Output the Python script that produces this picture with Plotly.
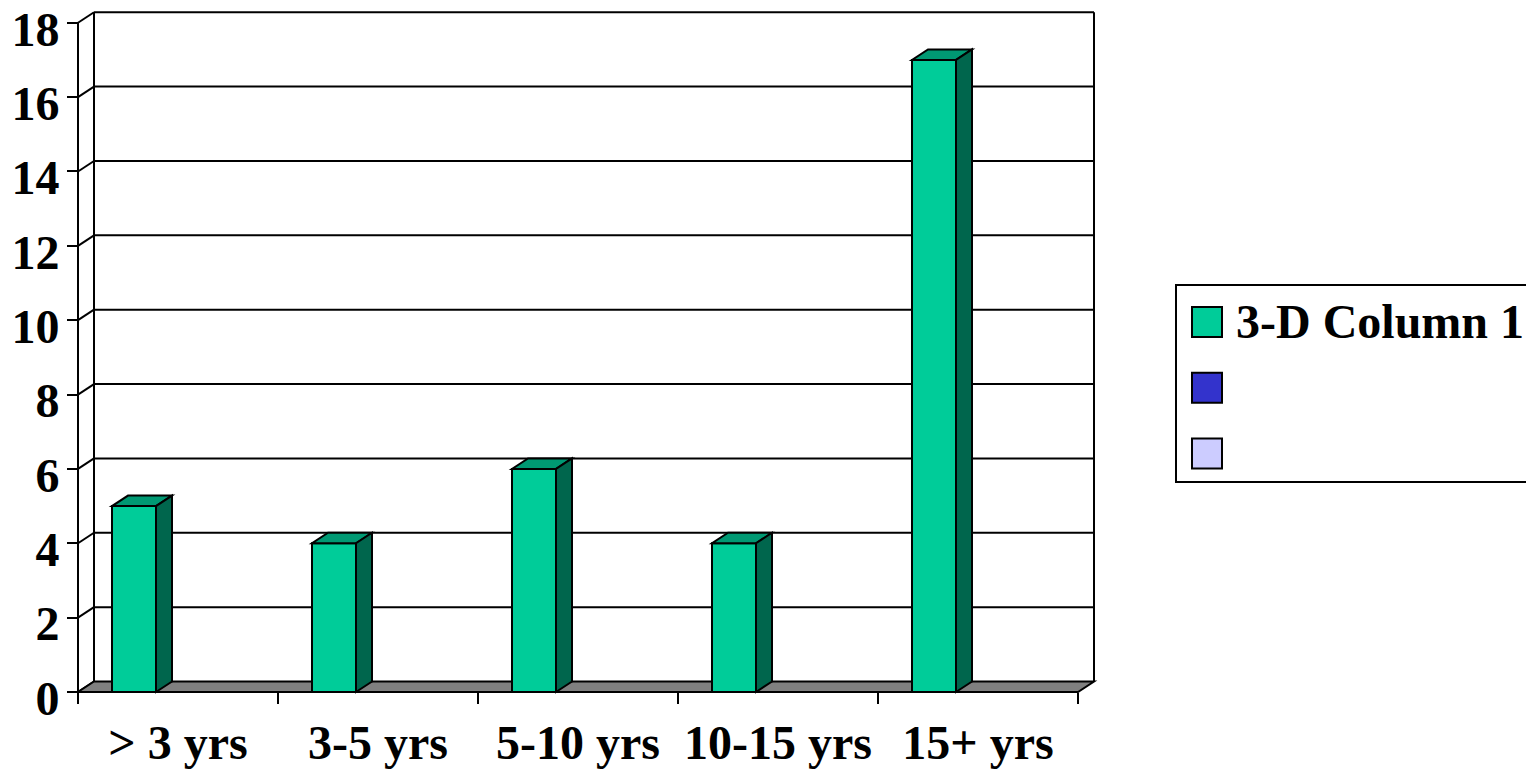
import plotly.graph_objects as go

# ---------------- data ----------------
categories = ["> 3 yrs", "3-5 yrs", "5-10 yrs", "10-15 yrs", "15+ yrs"]
series_names = ["3-D Column 1", "", ""]
series_1 = [5, 4, 6, 4, 17]
series_2 = [None, None, None, None, None]
series_3 = [None, None, None, None, None]
y_tick_values = [0, 2, 4, 6, 8, 10, 12, 14, 16, 18]

# ---------------- style ----------------
front_colors = ["#00CC99", "#3333CC", "#CCCCFF"]
top_colors = ["#009973", "#262699", "#9999BF"]
side_colors = ["#00664D", "#1A1A66", "#666680"]
FONT = "Liberation Serif, Times New Roman, serif"
FS = 48
BARGAP = 0.34
DX = 0.08      # depth offset in x units
DY = 0.2824    # depth offset in y units

# page geometry (body margin removed by post_script)
W, H = 1526, 773
# page-pixel placement of the plot area
PLOT_L, PLOT_R = 58, 1108      # x = -0.1 .. 5.15  (200 px per category)
PLOT_T, PLOT_B = 8, 703
X0_PX, XSCALE = 78, 200.0      # x=0 at px 78
Y0_PX, YSCALE = 692, 37.18     # y=0 at px 692
XR = [(PLOT_L - X0_PX) / XSCALE, (PLOT_R - X0_PX) / XSCALE]
YR = [(Y0_PX - PLOT_B) / YSCALE, (Y0_PX - PLOT_T) / YSCALE]
ML = PLOT_L
MT = PLOT_T
MR = W - PLOT_R
MB = H - PLOT_B

all_series = [series_1, series_2, series_3]
n_cat = len(categories)
n_ser = len(all_series)
xc = [i + 0.5 for i in range(n_cat)]
ymax = max(y_tick_values)

fig = go.Figure()
for s, vals in enumerate(all_series):
    fig.add_trace(go.Bar(
        x=xc, y=vals, name=series_names[s] or " ",
        marker=dict(color=front_colors[s], line=dict(color="black", width=2)),
        showlegend=False,
    ))

shapes = []
blk = dict(color="black", width=2)

# back wall gridlines (incl. top) and left wall diagonals
for k in y_tick_values:
    if k > 0:
        shapes.append(dict(type="line", xref="x", yref="y", x0=DX, x1=n_cat + DX,
                           y0=k + DY, y1=k + DY, line=blk, layer="below"))
    shapes.append(dict(type="line", xref="x", yref="y", x0=0, x1=DX,
                       y0=k, y1=k + DY, line=blk, layer="below"))
# back wall verticals
for xv in [DX, n_cat + DX]:
    shapes.append(dict(type="line", xref="x", yref="y", x0=xv, x1=xv,
                       y0=DY, y1=ymax + DY, line=blk, layer="below"))
# front axis line
shapes.append(dict(type="line", xref="x", yref="y", x0=0, x1=0,
                   y0=0, y1=ymax, line=blk, layer="below"))
# floor
shapes.append(dict(type="path", xref="x", yref="y",
                   path=f"M0,0 L{n_cat},0 L{n_cat + DX},{DY} L{DX},{DY} Z",
                   fillcolor="#808080", line=blk, layer="below"))

# 3-D faces of the bars
group_w = 1 - BARGAP
bar_w = group_w / n_ser
for s, vals in enumerate(all_series):
    for i, v in enumerate(vals):
        if v is None:
            continue
        x0 = xc[i] - group_w / 2 + s * bar_w
        x1 = x0 + bar_w
        shapes.append(dict(type="path", xref="x", yref="y",
                           path=f"M{x0},{v} L{x1},{v} L{x1 + DX},{v + DY} L{x0 + DX},{v + DY} Z",
                           fillcolor=top_colors[s], line=blk, layer="above"))
        shapes.append(dict(type="path", xref="x", yref="y",
                           path=f"M{x1},0 L{x1},{v} L{x1 + DX},{v + DY} L{x1 + DX},{DY} Z",
                           fillcolor=side_colors[s], line=blk, layer="above"))

# ---------------- legend (drawn manually) ----------------
pw = PLOT_R - PLOT_L
ph = PLOT_B - PLOT_T


def px_x(p):
    return (p - PLOT_L) / pw


def px_y(p):
    return (PLOT_B - p) / ph


shapes.append(dict(type="rect", xref="paper", yref="paper",
                   x0=px_x(1176), x1=px_x(1545), y0=px_y(482), y1=px_y(285),
                   line=blk, fillcolor="white", layer="above"))
annotations = []
for s, name in enumerate(series_names):
    top = 307 + s * 65.7
    shapes.append(dict(type="rect", xref="paper", yref="paper",
                       x0=px_x(1192), x1=px_x(1222), y0=px_y(top + 30), y1=px_y(top),
                       line=blk, fillcolor=front_colors[s], layer="above"))
    if name:
        annotations.append(dict(xref="paper", yref="paper", x=px_x(1234), y=px_y(top + 14),
                                xanchor="left", yanchor="middle", text=name, showarrow=False,
                                font=dict(family=FONT, size=FS, color="black", weight="bold")))

fig.update_layout(
    width=W, height=H,
    margin=dict(l=ML, r=MR, t=MT, b=MB, pad=0, autoexpand=False),
    paper_bgcolor="white", plot_bgcolor="white",
    barmode="group", bargap=BARGAP, bargroupgap=0,
    shapes=shapes, annotations=annotations,
    showlegend=False,
    xaxis=dict(range=XR, anchor="free", position=(0 - YR[0]) / (YR[1] - YR[0]),
               automargin=False, ticklabeloverflow="allow", ticklabelstandoff=18,
               tickvals=xc, ticktext=categories, ticks="",
               showgrid=False, zeroline=False, showline=False,
               tickfont=dict(family=FONT, size=FS, color="black", weight="bold"),
               minor=dict(tickvals=list(range(n_cat + 1)), ticks="outside", ticklen=11,
                          tickwidth=2, tickcolor="black", showgrid=False)),
    yaxis=dict(range=YR, anchor="free", position=(0 - XR[0]) / (XR[1] - XR[0]),
               automargin=False, ticklabeloverflow="allow",
               ticklabelshift=6, ticklabelstandoff=-2,
               tickvals=y_tick_values, ticks="outside", ticklen=11, tickwidth=2,
               tickcolor="black", showgrid=False, zeroline=False, showline=False,
               tickfont=dict(family=FONT, size=FS, color="black", weight="bold")),
)

fig.write_html("out.html", config={"displayModeBar": False},
               post_script="document.body.style.margin='0px';document.body.style.overflow='hidden';")
